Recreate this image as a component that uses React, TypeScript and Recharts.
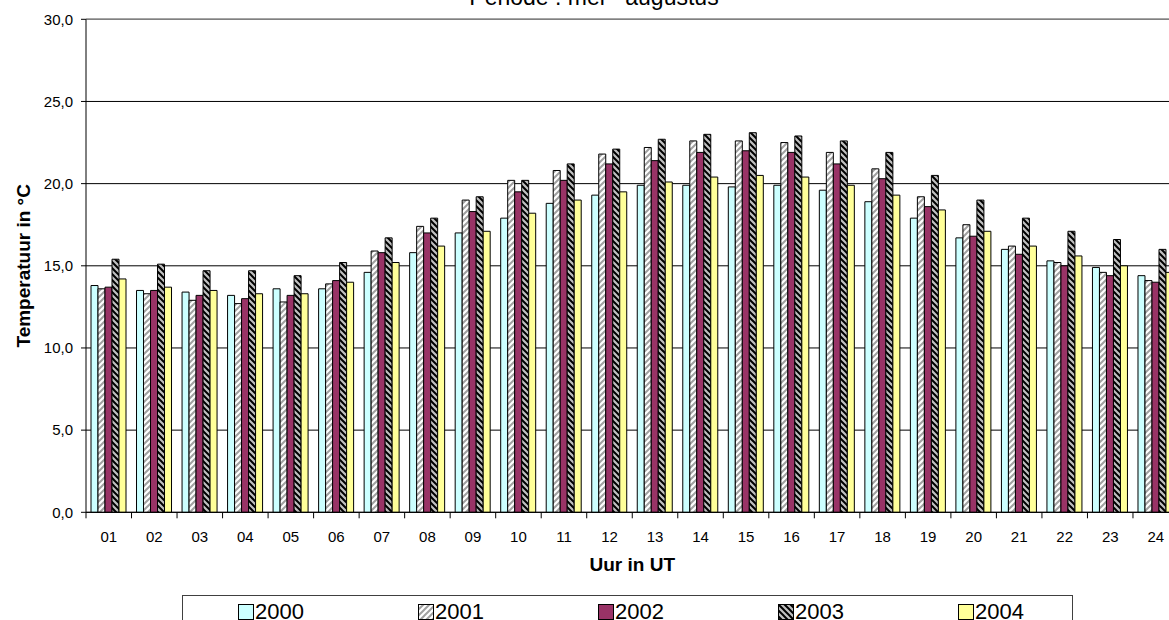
import React from 'react';
import { BarChart, Bar, XAxis, YAxis, CartesianGrid, ReferenceLine } from 'recharts';

// Gemiddelde uurtemperatuur (°C), periode mei - augustus
const hours = ['01', '02', '03', '04', '05', '06', '07', '08', '09', '10', '11', '12', '13', '14', '15', '16', '17', '18', '19', '20', '21', '22', '23', '24'];
const years = ['2000', '2001', '2002', '2003', '2004'];

const t2000 = [13.8, 13.5, 13.4, 13.2, 13.6, 13.6, 14.6, 15.8, 17.0, 17.9, 18.8, 19.3, 19.9, 19.9, 19.8, 19.9, 19.6, 18.9, 17.9, 16.7, 16.0, 15.3, 14.9, 14.4];
const t2001 = [13.6, 13.3, 12.9, 12.7, 12.8, 13.9, 15.9, 17.4, 19.0, 20.2, 20.8, 21.8, 22.2, 22.6, 22.6, 22.5, 21.9, 20.9, 19.2, 17.5, 16.2, 15.2, 14.6, 14.1];
const t2002 = [13.7, 13.5, 13.2, 13.0, 13.2, 14.1, 15.8, 17.0, 18.3, 19.5, 20.2, 21.2, 21.4, 21.9, 22.0, 21.9, 21.2, 20.3, 18.6, 16.8, 15.7, 15.0, 14.4, 14.0];
const t2003 = [15.4, 15.1, 14.7, 14.7, 14.4, 15.2, 16.7, 17.9, 19.2, 20.2, 21.2, 22.1, 22.7, 23.0, 23.1, 22.9, 22.6, 21.9, 20.5, 19.0, 17.9, 17.1, 16.6, 16.0];
const t2004 = [14.2, 13.7, 13.5, 13.3, 13.3, 14.0, 15.2, 16.2, 17.1, 18.2, 19.0, 19.5, 20.1, 20.4, 20.5, 20.4, 19.9, 19.3, 18.4, 17.1, 16.2, 15.6, 15.0, 14.6];

const yTicks = [0, 5, 10, 15, 20, 25, 30];

const seriesValues = [t2000, t2001, t2002, t2003, t2004];
const seriesFills = ['#ccffff', 'url(#hatch2001)', '#993366', 'url(#hatch2003)', '#ffff99'];

const data = hours.map((h, i) => {
  const row: Record<string, string | number> = { hour: h };
  years.forEach((y, s) => {
    row['y' + y] = seriesValues[s][i];
  });
  return row;
});

const FONT = '"Liberation Sans", Arial, Helvetica, sans-serif';
const TICK_SIZE = 6;
const TICK_MARGIN = 13;

const fmt = (v: number) => v.toFixed(1).replace('.', ',');

function PatternDefs({ prefix }: { prefix: string }) {
  return (
    <defs>
      <pattern id={prefix + '2001'} patternUnits="userSpaceOnUse" width="6" height="6">
        <rect width="6" height="6" fill="#ffffff" />
        <path d="M-1,1 L1,-1 M0,6 L6,0 M5,7 L7,5" stroke="#a0a0a0" strokeWidth="2" />
      </pattern>
      <pattern id={prefix + '2003'} patternUnits="userSpaceOnUse" width="6" height="6">
        <rect width="6" height="6" fill="#c0c0c0" />
        <path d="M-1,5 L1,7 M0,0 L6,6 M5,-1 L7,1" stroke="#000000" strokeWidth="2" />
      </pattern>
    </defs>
  );
}

// hour label centred in its band, tick mark on the band's left edge
function HourTick(props: any) {
  const { x, y, payload } = props;
  const half = payload && payload.offset ? payload.offset : 0;
  const axisY = y - TICK_SIZE - TICK_MARGIN;
  return (
    <g>
      <line x1={x - half} x2={x - half} y1={axisY} y2={axisY + TICK_SIZE} stroke="#000" />
      <text x={x} y={y} dy="0.71em" textAnchor="middle" fontSize={15} fontFamily={FONT} fill="#000">
        {payload.value}
      </text>
    </g>
  );
}

function YTitle(props: any) {
  const vb = props.viewBox || { x: 0, y: 0, width: 0, height: 0 };
  const cx = vb.x + 24;
  const cy = vb.y + vb.height / 2;
  return (
    <text
      x={cx}
      y={cy}
      transform={`rotate(-90, ${cx}, ${cy})`}
      textAnchor="middle"
      dominantBaseline="central"
      fontSize={19}
      fontWeight="bold"
      fontFamily={FONT}
      fill="#000"
    >
      Temperatuur in °C
    </text>
  );
}

function XTitle(props: any) {
  const vb = props.viewBox || { x: 0, y: 0, width: 0, height: 0 };
  return (
    <text
      x={vb.x + vb.width / 2}
      y={vb.y + 59}
      textAnchor="middle"
      fontSize={19}
      fontWeight="bold"
      fontFamily={FONT}
      fill="#000"
    >
      Uur in UT
    </text>
  );
}

function LegendSwatch({ index }: { index: number }) {
  const prefix = 'legendHatch';
  const fill = seriesFills[index].startsWith('url') ? `url(#${prefix}${years[index]})` : seriesFills[index];
  return (
    <svg width={16} height={16} style={{ display: 'block', flex: 'none' }}>
      <PatternDefs prefix={prefix} />
      <rect x={0.5} y={0.5} width={15} height={15} fill={fill} stroke="#000" />
    </svg>
  );
}

export default function App() {
  return (
    <div
      style={{
        position: 'fixed',
        left: 0,
        top: 0,
        width: 1169,
        height: 620,
        overflow: 'hidden',
        background: '#ffffff',
        fontFamily: FONT,
      }}
    >
      <div
        style={{
          position: 'absolute',
          left: 0,
          top: -14,
          width: 1188,
          textAlign: 'center',
          fontSize: 23,
          lineHeight: '23px',
          color: '#000',
          whiteSpace: 'nowrap',
        }}
      >
        Periode : mei - augustus
      </div>

      <div style={{ position: 'absolute', left: 0, top: 0 }}>
        <BarChart
          width={1200}
          height={620}
          data={data}
          margin={{ top: 19.3, right: 21.5, bottom: 77.7, left: 0 }}
          barCategoryGap="11%"
          barGap={0}
        >
          <PatternDefs prefix="hatch" />
          <CartesianGrid vertical={false} stroke="#000" />
          <ReferenceLine y={30} stroke="#808080" strokeWidth={1.5} />
          <XAxis
            dataKey="hour"
            height={30}
            tickLine={false}
            tickSize={TICK_SIZE}
            tickMargin={TICK_MARGIN}
            axisLine={{ stroke: '#000' }}
            interval={0}
            tick={<HourTick />}
            label={{ value: 'Uur in UT', content: (p: any) => <XTitle {...p} /> }}
          />
          <YAxis
            width={86}
            domain={[0, 30]}
            ticks={yTicks}
            interval={0}
            tickFormatter={fmt}
            tickSize={5}
            tickMargin={8}
            axisLine={{ stroke: '#000' }}
            tickLine={{ stroke: '#000' }}
            tick={{ fill: '#000', fontSize: 15, fontFamily: FONT }}
            label={{ value: 'Temperatuur in °C', content: (p: any) => <YTitle {...p} /> }}
          />
          {years.map((y, s) => (
            <Bar
              key={y}
              dataKey={'y' + y}
              name={y}
              fill={seriesFills[s]}
              stroke="#000"
              strokeWidth={1}
              isAnimationActive={false}
            />
          ))}
        </BarChart>
      </div>

      <div
        style={{
          position: 'absolute',
          left: 182,
          top: 595,
          width: 891,
          height: 60,
          boxSizing: 'border-box',
          border: '1px solid #404040',
          background: '#fff',
        }}
      >
        {years.map((y, s) => (
          <div
            key={y}
            style={{
              position: 'absolute',
              left: 55 + s * 180,
              top: 5,
              display: 'flex',
              alignItems: 'flex-start',
              fontSize: 22,
              lineHeight: '22px',
              color: '#000',
            }}
          >
            <div style={{ marginTop: 3, marginRight: 1 }}>
              <LegendSwatch index={s} />
            </div>
            <span>{y}</span>
          </div>
        ))}
      </div>
    </div>
  );
}
